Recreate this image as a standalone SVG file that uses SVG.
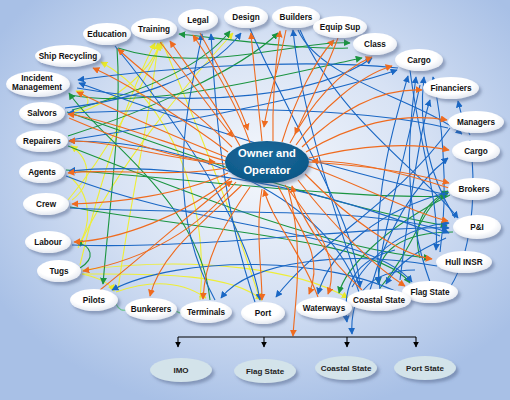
<svg xmlns="http://www.w3.org/2000/svg" width="510" height="400" viewBox="0 0 510 400">
<defs>
<radialGradient id="bg" cx="0.52" cy="0.42" r="0.62">
<stop offset="0" stop-color="#f4f7fc"/>
<stop offset="0.5" stop-color="#d7e2f4"/>
<stop offset="1" stop-color="#a8c0e6"/>
</radialGradient>
<radialGradient id="nf" cx="0.45" cy="0.35" r="0.7">
<stop offset="0.6" stop-color="#ffffff"/>
<stop offset="1" stop-color="#dfe4ee"/>
</radialGradient>
<radialGradient id="cf" cx="0.45" cy="0.35" r="0.7">
<stop offset="0" stop-color="#1a6b9c"/>
<stop offset="1" stop-color="#0c5686"/>
</radialGradient>
<filter id="sh" x="-30%" y="-40%" width="160%" height="190%">
<feDropShadow dx="2.5" dy="3" stdDeviation="1.8" flood-color="#4a5a80" flood-opacity="0.45"/>
</filter>
<marker id="mo" viewBox="0 0 10 10" refX="9" refY="5" markerUnits="userSpaceOnUse" markerWidth="7" markerHeight="7" orient="auto-start-reverse"><path d="M0,0L10,5L0,10z" fill="#ef6b1f"/></marker>
<marker id="mb" viewBox="0 0 10 10" refX="9" refY="5" markerUnits="userSpaceOnUse" markerWidth="7" markerHeight="7" orient="auto-start-reverse"><path d="M0,0L10,5L0,10z" fill="#1a67c4"/></marker>
<marker id="mg" viewBox="0 0 10 10" refX="9" refY="5" markerUnits="userSpaceOnUse" markerWidth="7" markerHeight="7" orient="auto-start-reverse"><path d="M0,0L10,5L0,10z" fill="#1a9440"/></marker>
<marker id="my" viewBox="0 0 10 10" refX="9" refY="5" markerUnits="userSpaceOnUse" markerWidth="7" markerHeight="7" orient="auto-start-reverse"><path d="M0,0L10,5L0,10z" fill="#e8e82a"/></marker>
<marker id="mk" viewBox="0 0 10 10" refX="9" refY="5" markerUnits="userSpaceOnUse" markerWidth="6" markerHeight="6" orient="auto"><path d="M0,0L10,5L0,10z" fill="#000"/></marker>
</defs>
<style>
.n ellipse{fill:url(#nf);filter:url(#sh)}
.n text,.c text,.r text{font-family:"Liberation Sans",Arial,sans-serif;font-weight:bold;font-size:8.2px;fill:#111;text-anchor:middle}
.c ellipse{fill:url(#cf);filter:url(#sh)}
.c text{font-size:11.2px;fill:#fff}
.r ellipse{fill:#d3e3ea;filter:url(#sh)}
.r text{font-size:8px;fill:#222}
#connectors path{fill:none;stroke-width:1.1}
.o{stroke:#ef6b1f;marker-end:url(#mo)}
.b{stroke:#1a67c4;marker-end:url(#mb)}
.g{stroke:#1a9440;marker-end:url(#mg)}
.y{stroke:#eeee38;marker-end:url(#my)}
.l{stroke:#66c585}
.k{stroke:#000;stroke-width:1.2}
</style>
<rect width="510" height="400" fill="url(#bg)"/>
<g id="connectors">
<!-- yellow -->
<path class="y" d="M80,265 C100,180 130,90 155,43"/>
<path class="y" d="M68,200 C110,150 140,90 162,42"/>
<path class="y" d="M118,290 C130,200 150,120 158,43"/>
<path class="y" d="M70,116 C120,100 150,70 160,44"/>
<path class="y" d="M78,248 C120,160 190,80 233,33"/>
<path class="y" d="M200,300 C210,200 170,100 101,62"/>
<path class="y" d="M72,200 C92,185 92,160 71,146"/>
<path class="y" d="M69,176 C92,195 92,225 78,246"/>
<path class="y" d="M68,113 C92,108 94,98 76,91"/>
<path class="y" d="M163,44 C195,120 235,220 260,300"/>
<path class="y" d="M82,274 C150,274 230,272 262,300"/>
<path class="y" d="M116,292 C150,280 180,280 206,298"/>
<path class="y" d="M82,270 C200,255 300,270 348,298"/>
<path class="y" d="M82,274 C100,278 110,283 114,291"/>
<path class="l" d="M116,304 C120,312 124,310 128,310"/>
<path class="l" d="M176,311 C180,314 182,313 184,313"/>
<!-- green -->
<path class="g" d="M117,48 C122,120 110,200 103,284"/>
<path class="g" d="M118,48 C200,75 300,40 350,43"/>
<path class="g" d="M70,95 C150,110 280,75 362,58"/>
<path class="g" d="M348,48 C300,50 220,38 179,34"/>
<path class="g" d="M72,110 C130,95 200,70 230,31"/>
<path class="g" d="M68,136 C150,110 240,70 278,33"/>
<path class="g" d="M210,300 C200,200 100,140 69,93"/>
<path class="g" d="M67,112 C150,140 300,200 447,226"/>
<path class="g" d="M80,268 C96,258 92,246 76,242"/>
<path class="g" d="M420,258 C410,220 430,200 448,191"/>
<path class="g" d="M380,288 C420,240 420,205 448,193"/>
<path class="g" d="M68,146 C180,190 330,250 430,258"/>
<path class="g" d="M453,232 C400,232 375,252 379,284"/>
<path class="g" d="M450,195 C380,230 345,270 339,293"/>
<path class="g" d="M70,207 C200,230 380,240 410,283"/>
<path class="g" d="M66,170 C200,180 360,200 447,196"/>
<!-- blue -->
<path class="b" d="M398,68 C300,58 160,68 78,80"/>
<path class="b" d="M448,195 C330,170 180,120 79,83"/>
<path class="b" d="M448,128 C350,105 200,108 68,113"/>
<path class="b" d="M360,295 C330,200 200,140 69,141"/>
<path class="b" d="M440,236 C330,190 180,160 69,171"/>
<path class="b" d="M215,300 C160,200 190,100 202,34"/>
<path class="b" d="M255,302 C220,200 215,100 211,34"/>
<path class="b" d="M65,108 C130,100 205,80 241,33"/>
<path class="b" d="M298,30 C320,80 420,100 462,134"/>
<path class="b" d="M360,288 C330,200 300,100 293,30"/>
<path class="b" d="M77,88 C200,110 320,95 372,58"/>
<path class="b" d="M70,140 C200,120 340,90 397,70"/>
<path class="b" d="M380,290 C370,200 395,120 408,76"/>
<path class="b" d="M430,282 C400,200 410,120 416,77"/>
<path class="b" d="M455,218 C420,160 420,110 424,77"/>
<path class="b" d="M440,252 C450,180 440,110 433,77"/>
<path class="b" d="M400,280 C410,200 420,130 430,100"/>
<path class="b" d="M470,135 C462,120 460,110 458,101"/>
<path class="b" d="M370,290 C390,220 420,180 448,158"/>
<path class="b" d="M352,287 C380,240 420,225 449,223"/>
<path class="b" d="M72,245 C200,250 380,225 449,228"/>
<path class="b" d="M70,208 C200,215 380,205 449,233"/>
<path class="b" d="M410,70 C420,150 440,200 436,250"/>
<path class="b" d="M250,29 C300,140 355,220 360,287"/>
<path class="b" d="M420,85 C400,180 380,240 378,283"/>
<path class="b" d="M446,238 C420,250 400,260 386,284"/>
<path class="b" d="M66,176 C200,230 370,230 412,282"/>
<path class="b" d="M449,192 C380,210 330,250 318,294"/>
<path class="b" d="M450,128 C400,200 320,240 276,297"/>
<path class="b" d="M115,46 C200,150 250,240 260,300"/>
<path class="b" d="M437,266 C350,250 250,260 221,298"/>
<path class="b" d="M405,296 C330,255 180,255 112,290"/>
<path class="b" d="M395,250 C355,260 342,285 347,322"/>
<path class="b" d="M415,270 C365,270 350,300 352,334"/>
<path class="b" d="M300,30 C340,120 420,170 458,218"/>
<path class="b" d="M470,140 C478,200 470,270 440,300"/>
<!-- orange: owner to nodes -->
<path class="o" d="M232,147 C195,110 145,75 118,49"/>
<path class="o" d="M228,152 C185,120 125,82 93,68"/>
<path class="o" d="M226,157 C170,135 115,110 77,92"/>
<path class="o" d="M226,161 C170,145 110,120 68,114"/>
<path class="o" d="M225,164 C170,160 110,140 69,141"/>
<path class="o" d="M226,168 C170,178 110,168 68,173"/>
<path class="o" d="M228,173 C180,195 115,203 72,204"/>
<path class="o" d="M231,178 C185,215 120,240 74,242"/>
<path class="o" d="M236,182 C190,240 130,262 83,271"/>
<path class="o" d="M242,185 C200,225 160,255 150,296"/>
<path class="o" d="M250,187 C220,230 205,260 203,299"/>
<path class="o" d="M262,189 C255,230 262,270 262,300"/>
<path class="o" d="M278,186 C300,230 325,255 309,294"/>
<path class="o" d="M285,185 C320,230 340,260 328,294"/>
<path class="o" d="M298,180 C340,235 380,270 405,286"/>
<path class="o" d="M305,174 C350,220 400,255 432,259"/>
<path class="o" d="M308,166 C360,185 410,212 448,221"/>
<path class="o" d="M309,162 C360,165 410,172 449,183"/>
<path class="o" d="M309,158 C360,145 410,142 449,150"/>
<path class="o" d="M306,152 C350,125 400,112 447,120"/>
<path class="o" d="M302,147 C340,110 380,88 422,90"/>
<path class="o" d="M296,145 C320,110 360,75 392,66"/>
<path class="o" d="M290,143 C310,105 340,70 372,57"/>
<path class="o" d="M282,142 C295,100 315,60 334,40"/>
<path class="o" d="M273,141 C272,100 276,60 280,31"/>
<path class="o" d="M262,141 C258,100 253,60 251,33"/>
<path class="o" d="M250,143 C235,100 210,60 193,35"/>
<path class="o" d="M240,146 C220,110 190,70 170,41"/>
<!-- orange: nodes to owner -->
<path class="o" d="M160,42 C190,80 215,115 233,137"/>
<path class="o" d="M200,33 C220,70 238,100 248,130"/>
<path class="o" d="M286,30 C278,70 268,100 264,127"/>
<path class="o" d="M338,38 C322,80 306,110 295,134"/>
<path class="o" d="M449,188 C400,172 350,160 312,161"/>
<path class="o" d="M362,290 C330,260 300,220 292,186"/>
<path class="o" d="M318,297 C300,250 272,220 264,190"/>
<path class="o" d="M100,290 C150,250 200,205 232,181"/>
<path class="o" d="M69,118 C120,140 170,158 215,162"/>
<path class="o" d="M288,188 C305,250 295,300 293,336"/>
<!-- regulators -->
<path class="k" d="M178,337 H416"/>
<path class="k" d="M178,337 V347" style="marker-end:url(#mk)"/>
<path class="k" d="M264,337 V347" style="marker-end:url(#mk)"/>
<path class="k" d="M347,337 V347" style="marker-end:url(#mk)"/>
<path class="k" d="M416,337 V347" style="marker-end:url(#mk)"/>
</g>
<g id="education" class="n"><ellipse cx="107" cy="34" rx="24" ry="11"/><text x="107" y="37">Education</text></g>
<g id="training" class="n"><ellipse cx="154" cy="29" rx="23" ry="11"/><text x="154" y="32">Training</text></g>
<g id="legal" class="n"><ellipse cx="198" cy="20" rx="20" ry="11"/><text x="198" y="23">Legal</text></g>
<g id="design" class="n"><ellipse cx="246" cy="17" rx="22" ry="11"/><text x="246" y="20">Design</text></g>
<g id="builders" class="n"><ellipse cx="296" cy="17" rx="24" ry="11"/><text x="296" y="20">Builders</text></g>
<g id="equip-sup" class="n"><ellipse cx="340" cy="27" rx="27" ry="11"/><text x="340" y="30">Equip Sup</text></g>
<g id="class" class="n"><ellipse cx="375" cy="44" rx="22" ry="11"/><text x="375" y="47">Class</text></g>
<g id="cargo-top" class="n"><ellipse cx="419" cy="60" rx="24" ry="11"/><text x="419" y="63">Cargo</text></g>
<g id="financiers" class="n"><ellipse cx="451" cy="88" rx="28" ry="11"/><text x="451" y="91">Financiers</text></g>
<g id="managers" class="n"><ellipse cx="476" cy="122" rx="28" ry="11"/><text x="476" y="125">Managers</text></g>
<g id="cargo-right" class="n"><ellipse cx="476" cy="151" rx="24" ry="11"/><text x="476" y="154">Cargo</text></g>
<g id="brokers" class="n"><ellipse cx="474" cy="189" rx="26" ry="11"/><text x="474" y="192">Brokers</text></g>
<g id="pandi" class="n"><ellipse cx="477" cy="227" rx="24" ry="12"/><text x="477" y="230">P&amp;I</text></g>
<g id="hull-insr" class="n"><ellipse cx="464" cy="262" rx="28" ry="11"/><text x="464" y="265">Hull INSR</text></g>
<g id="flag-state" class="n"><ellipse cx="430" cy="292" rx="28" ry="11"/><text x="430" y="295">Flag State</text></g>
<g id="coastal-state" class="n"><ellipse cx="379" cy="300" rx="32" ry="11"/><text x="379" y="303">Coastal State</text></g>
<g id="waterways" class="n"><ellipse cx="324" cy="308" rx="28" ry="11"/><text x="324" y="311">Waterways</text></g>
<g id="port" class="n"><ellipse cx="263" cy="313" rx="22" ry="11"/><text x="263" y="316">Port</text></g>
<g id="terminals" class="n"><ellipse cx="206" cy="312" rx="26" ry="11"/><text x="206" y="315">Terminals</text></g>
<g id="bunkerers" class="n"><ellipse cx="151" cy="309" rx="26" ry="11"/><text x="151" y="312">Bunkerers</text></g>
<g id="pilots" class="n"><ellipse cx="94" cy="300" rx="24" ry="11"/><text x="94" y="303">Pilots</text></g>
<g id="tugs" class="n"><ellipse cx="59" cy="271" rx="22" ry="11"/><text x="59" y="274">Tugs</text></g>
<g id="labour" class="n"><ellipse cx="48" cy="242" rx="23" ry="11"/><text x="48" y="245">Labour</text></g>
<g id="crew" class="n"><ellipse cx="46" cy="204" rx="23" ry="11"/><text x="46" y="207">Crew</text></g>
<g id="agents" class="n"><ellipse cx="42" cy="172" rx="23" ry="11"/><text x="42" y="175">Agents</text></g>
<g id="repairers" class="n"><ellipse cx="42" cy="141" rx="26" ry="11"/><text x="42" y="144">Repairers</text></g>
<g id="salvors" class="n"><ellipse cx="42" cy="113" rx="23" ry="11"/><text x="42" y="116">Salvors</text></g>
<g id="incident-management" class="n"><ellipse cx="38" cy="84" rx="32" ry="13"/><text x="37" y="81">Incident</text><text x="37" y="90">Management</text></g>
<g id="ship-recycling" class="n"><ellipse cx="68" cy="56" rx="33" ry="11"/><text x="68" y="59">Ship Recycling</text></g>
<g id="owner-operator" class="c"><ellipse cx="267" cy="162" rx="42" ry="21"/><text x="267" y="157">Owner and</text><text x="267" y="174">Operator</text></g>
<g id="imo" class="r"><ellipse cx="181" cy="370" rx="31" ry="12"/><text x="181" y="373">IMO</text></g>
<g id="flag-state-reg" class="r"><ellipse cx="265" cy="371" rx="31" ry="12"/><text x="265" y="374">Flag State</text></g>
<g id="coastal-state-reg" class="r"><ellipse cx="346" cy="368" rx="31" ry="12"/><text x="346" y="371">Coastal State</text></g>
<g id="port-state" class="r"><ellipse cx="425" cy="368" rx="31" ry="12"/><text x="425" y="371">Port State</text></g>
</svg>
